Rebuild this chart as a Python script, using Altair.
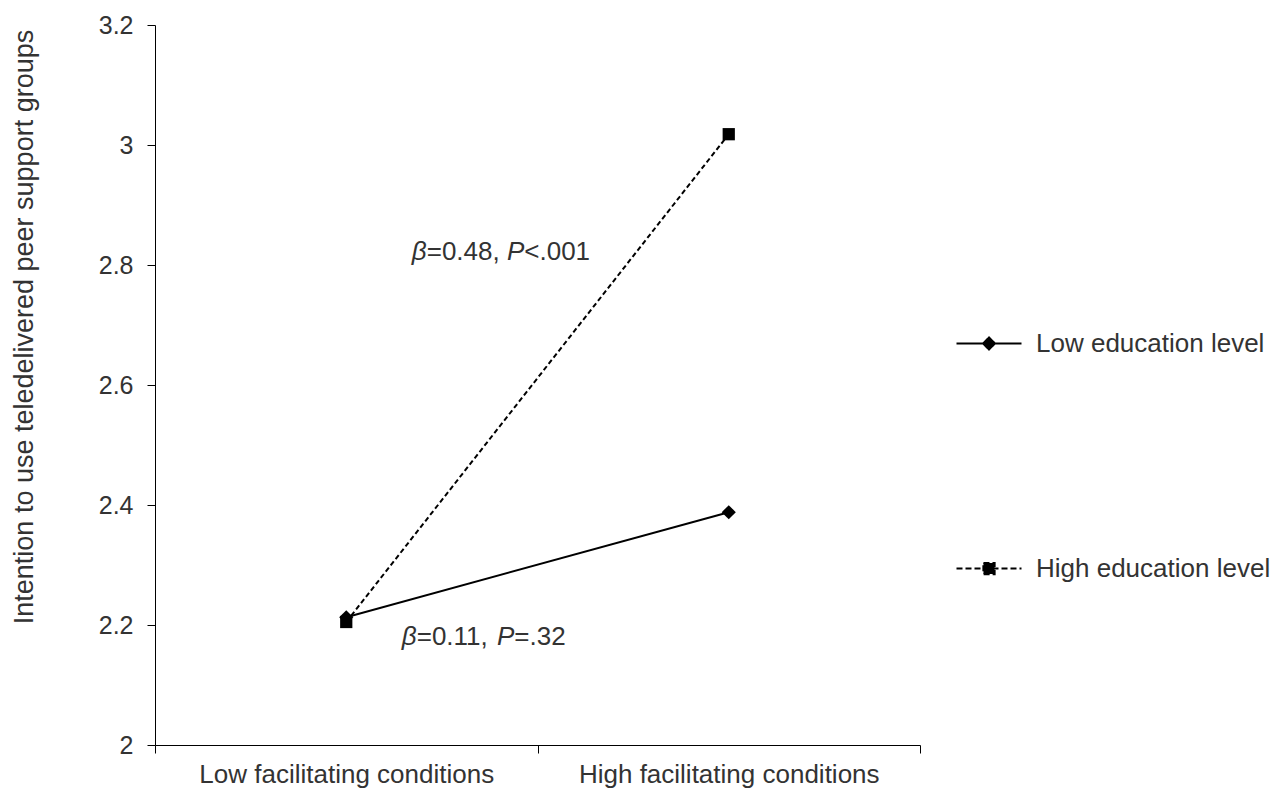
import altair as alt
import pandas as pd

# ---- data ----
conditions = ["Low facilitating conditions", "High facilitating conditions"]
groups = ["Low education level", "High education level"]
low_edu = [2.213, 2.388]
high_edu = [2.205, 3.018]
y_ticks = [2.0, 2.2, 2.4, 2.6, 2.8, 3.0, 3.2]

ann_pieces = [
    [("β", True), ("=0.48, ", False), ("P", True), ("<.001", False)],
    [("β", True), ("=0.11, ", False), ("P", True), ("=.32", False)],
]
ann_y = [2.822, 2.18]
ann_dx = [65.5, 55.5]

rows = []
for g, vals in zip(groups, [low_edu, high_edu]):
    for c, v in zip(conditions, vals):
        rows.append({"condition": c, "group": g, "value": v})
df = pd.DataFrame(rows)

FONT = "Liberation Sans"
TXT = "#333333"
HFS = 26  # horizontal text size

x_enc = alt.X(
    "condition:N",
    sort=conditions,
    scale=alt.Scale(type="band", domain=conditions, paddingInner=0, paddingOuter=0),
    axis=alt.Axis(
        title=None, labelAngle=0, tickBand="extent", tickSize=8, labelPadding=29,
        labelBaseline="alphabetic",
        labelFontSize=26, labelFont=FONT, labelColor=TXT, labelLimit=0,
        domainColor="black", tickColor="black", grid=False,
    ),
)
y_enc = alt.Y(
    "value:Q",
    scale=alt.Scale(domain=[2, 3.2], nice=False, zero=False),
    axis=alt.Axis(
        values=y_ticks, format=".1~f", tickSize=8, labelPadding=14,
        labelFontSize=25, labelFont=FONT, labelColor=TXT,
        domainColor="black", tickColor="black", grid=False,
        title="Intention to use teledelivered peer support groups",
        titleFont=FONT, titleFontSize=27, titleFontWeight="normal", titleColor=TXT,
        titleAngle=270, titleX=-123, titleY=301.5, titleAlign="center",
        titleBaseline="alphabetic",
    ),
)

base = alt.Chart(df)

line_low = base.transform_filter(alt.datum.group == groups[0]).mark_line(
    color="black", strokeWidth=2).encode(x=x_enc, y=y_enc)
line_high = base.transform_filter(alt.datum.group == groups[1]).mark_line(
    color="black", strokeWidth=2, strokeDash=[5, 3]).encode(x=x_enc, y=y_enc)
pt_low = base.transform_filter(alt.datum.group == groups[0]).mark_point(
    filled=True, color="black", opacity=1, shape="diamond", size=200).encode(x=x_enc, y=y_enc)
pt_high = base.transform_filter(alt.datum.group == groups[1]).mark_point(
    filled=True, color="black", opacity=1, shape="square", size=150).encode(x=x_enc, y=y_enc)

legend_paths = [
    "M-1,0H1M0,-0.18L0.18,0L0,0.18L-0.18,0Z",
    "M-1,0H1M-0.17,-0.17H0.17V0.17H-0.17Z",
]
leg = alt.Legend(
    title=None, orient="none", legendX=800, legendY=284.5, direction="vertical",
    symbolSize=4225, symbolStrokeWidth=2.2, symbolOpacity=1,
    labelFont=FONT, labelFontSize=HFS, labelColor=TXT, labelOffset=13,
    rowPadding=178, padding=0, labelLimit=400,
)
legend_layer = base.transform_filter("false").mark_point(
    filled=True, strokeWidth=2, opacity=1).encode(
    x=x_enc, y=y_enc,
    shape=alt.Shape("group:N", scale=alt.Scale(domain=groups, range=legend_paths), legend=leg),
    strokeDash=alt.StrokeDash("group:N", scale=alt.Scale(domain=groups, range=[[1, 0], [6, 3]]), legend=leg),
    fill=alt.Fill("group:N", scale=alt.Scale(domain=groups, range=["black", "black"]), legend=leg),
    stroke=alt.Stroke("group:N", scale=alt.Scale(domain=groups, range=["black", "black"]), legend=leg),
)

# annotation text pieces (italic symbols), offsets from approximate glyph widths
W = {"β": 0.575, "=": 0.584, "<": 0.584, "P": 0.667, ".": 0.278, ",": 0.278, " ": 0.278}
ann_layers = []
for pieces, yv, dx0 in zip(ann_pieces, ann_y, ann_dx):
    off = dx0
    for txt, ital in pieces:
        d = pd.DataFrame({"condition": [conditions[0]], "value": [yv], "label": [txt]})
        ann_layers.append(
            alt.Chart(d).mark_text(
                align="left", baseline="middle", dx=off, font=FONT, fontSize=HFS,
                color=TXT, fontStyle="italic" if ital else "normal",
            ).encode(x=x_enc, y=y_enc, text="label:N")
        )
        off += sum(W.get(ch, 0.556) for ch in txt) * HFS

chart = alt.layer(
    line_low, line_high, pt_low, pt_high, legend_layer, *ann_layers
).properties(
    width=765, height=720,
    autosize=alt.AutoSizeParams(type="none"),
    padding={"left": 147, "top": 17, "right": 350, "bottom": 45},
).configure_view(stroke=None)

chart.save("out.html", embed_options={"renderer": "svg", "actions": False})
